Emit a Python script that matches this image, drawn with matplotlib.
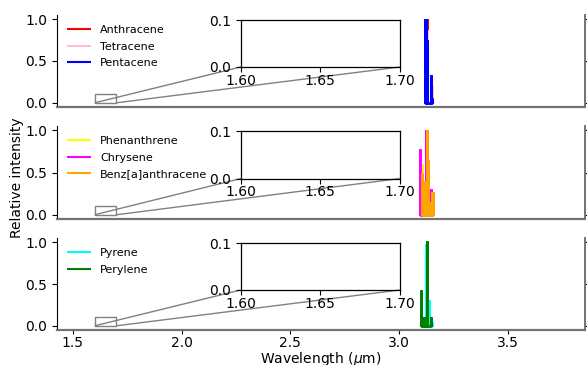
import numpy as np
import matplotlib
matplotlib.use("Agg")
import matplotlib.pyplot as plt
from mpl_toolkits.axes_grid1.inset_locator import mark_inset

# ---- data (peak wavelengths in um, relative intensities) ----
anthracene_wl = [3.129]
anthracene_int = [1.0]
tetracene_wl = [3.129, 3.153]
tetracene_int = [0.87, 0.20]
pentacene_wl = [3.121, 3.125, 3.130, 3.147, 3.151]
pentacene_int = [1.0, 1.0, 0.75, 0.33, 0.06]

phenanthrene_wl = [3.106, 3.126]
phenanthrene_int = [0.60, 0.30]
chrysene_wl = [3.096, 3.122, 3.134, 3.147]
chrysene_int = [0.78, 1.0, 0.55, 0.30]
benz_wl = [3.104, 3.114, 3.127, 3.132, 3.142, 3.152, 3.157]
benz_int = [0.50, 0.40, 1.0, 0.65, 0.15, 0.27, 0.27]

pyrene_wl = [3.124, 3.137, 3.152]
pyrene_int = [0.98, 0.31, 0.05]
perylene_wl = [3.099, 3.108, 3.117, 3.128, 3.146]
perylene_int = [0.43, 0.10, 0.10, 1.01, 0.10]

panels = [
    [("Anthracene", anthracene_wl, anthracene_int, "red"),
     ("Tetracene", tetracene_wl, tetracene_int, "pink"),
     ("Pentacene", pentacene_wl, pentacene_int, "blue")],
    [("Phenanthrene", phenanthrene_wl, phenanthrene_int, "yellow"),
     ("Chrysene", chrysene_wl, chrysene_int, "magenta"),
     ("Benz[a]anthracene", benz_wl, benz_int, "orange")],
    [("Pyrene", pyrene_wl, pyrene_int, "cyan"),
     ("Perylene", perylene_wl, perylene_int, "green")],
]

xticks = [1.5, 2.0, 2.5, 3.0, 3.5]
yticks = [0.0, 0.5, 1.0]
inset_xticks = [1.60, 1.65, 1.70]
inset_yticks = [0.0, 0.1]


def sticks(wl, inten):
    wl = np.asarray(wl, float)
    inten = np.asarray(inten, float)
    o = np.argsort(wl)
    wl, inten = wl[o], inten[o]
    x = np.repeat(wl, 3)
    y = np.column_stack([np.zeros_like(inten), inten, np.zeros_like(inten)]).ravel()
    return x, y


W, H = 587, 365
fig = plt.figure(figsize=(W / 100, H / 100), dpi=100)

left = 57 / W
right = 585 / W
tops = [15, 126, 238]
bots = [107, 219, 330]

axes = []
for i, spec in enumerate(panels):
    ax = fig.add_axes([left, 1 - bots[i] / H, right - left, (bots[i] - tops[i]) / H])
    axes.append(ax)
    for name, wl, inten, col in spec:
        x, y = sticks(wl, inten)
        ax.plot(x, y, color=col, lw=2, label=name,
                solid_joinstyle="bevel", solid_capstyle="butt")
    ax.set_xlim(1.427, 3.855)
    ax.set_ylim(-0.05, 1.05)
    ax.set_yticks(yticks)
    ax.set_yticklabels([f"{v:.1f}" for v in yticks], fontsize=10)
    ax.spines["top"].set_visible(False)
    ax.spines["left"].set_color("black")
    ax.spines["left"].set_linewidth(0.8)
    ax.spines["bottom"].set_color("0.45")
    ax.spines["bottom"].set_linewidth(1.6)
    ax.spines["right"].set_color("0.45")
    ax.spines["right"].set_linewidth(1.4)
    ax.tick_params(axis="y", which="both", left=True, right=True, direction="out")
    if i < 2:
        ax.set_xticks([])
    else:
        ax.set_xticks(xticks)
        ax.set_xticklabels([f"{v:.1f}" for v in xticks], fontsize=10)
        ax.tick_params(axis="x", length=3, pad=1.5)
        ax.set_xlabel("Wavelength ($\\mu$m)", fontsize=10, labelpad=0)
    leg = ax.legend(loc="upper left", frameon=False, fontsize=8,
                    handlelength=2.2, labelspacing=0.6)
    for l in leg.get_lines():
        l.set_linewidth(1.5)

    axins = ax.inset_axes([0.348, 0.435, 0.301, 0.51])
    axins.set_xlim(1.6, 1.7)
    axins.set_ylim(0.0, 0.1)
    axins.set_xticks(inset_xticks)
    axins.set_xticklabels([f"{v:.2f}" for v in inset_xticks], fontsize=10)
    axins.set_yticks(inset_yticks)
    axins.set_yticklabels([f"{v:.1f}" for v in inset_yticks], fontsize=10)
    axins.tick_params(axis="x", pad=1.5)
    for s in axins.spines.values():
        s.set_color("black")
        s.set_linewidth(0.9)
    axins.patch.set_alpha(0)
    mark_inset(ax, axins, loc1=3, loc2=4, fc="none", ec="0.5", lw=1)

fig.text(17 / W, 1 - 178 / H, "Relative intensity", rotation=90,
         ha="center", va="center", fontsize=10)

fig.savefig("out.png", dpi=100)
